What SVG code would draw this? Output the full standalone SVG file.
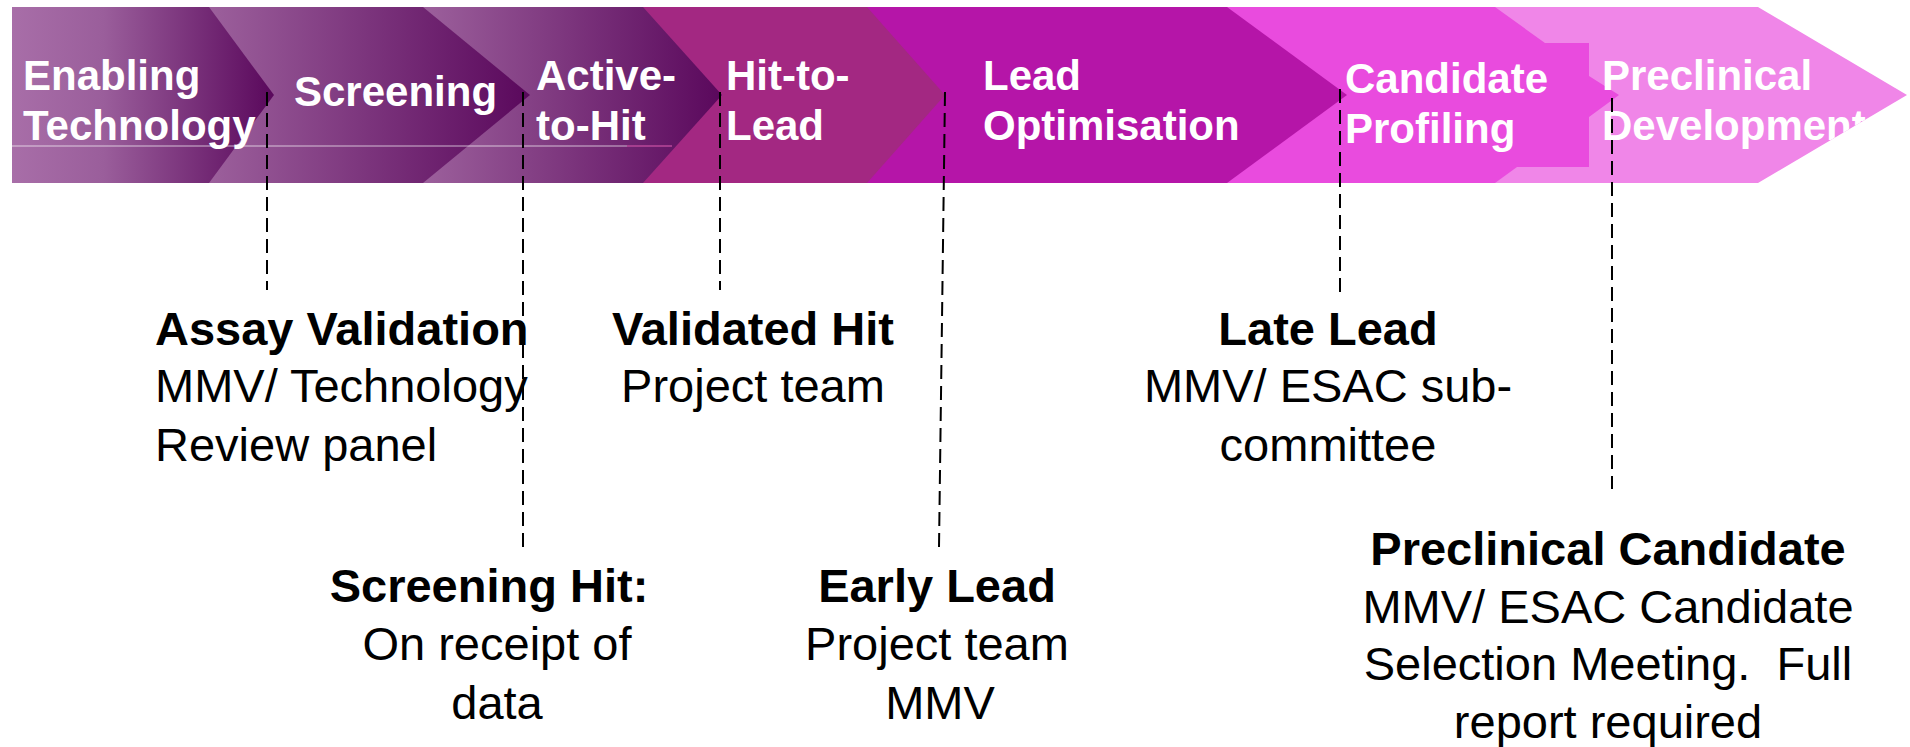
<svg xmlns="http://www.w3.org/2000/svg" width="1910" height="747" viewBox="0 0 1910 747">
<defs>
<style>
.band{font-family:"Liberation Sans",Arial,sans-serif;font-weight:bold;font-size:42px;fill:#ffffff}
.h{font-family:"Liberation Sans",Arial,sans-serif;font-weight:bold;font-size:47px;fill:#000000}
.t{font-family:"Liberation Sans",Arial,sans-serif;font-size:47px;fill:#000000}
.c{text-anchor:middle}
.dash{stroke:#000000;stroke-width:2;stroke-dasharray:14 7;fill:none}
</style>
<linearGradient id="g1" gradientUnits="userSpaceOnUse" x1="12" y1="0" x2="274" y2="0">
<stop offset="0" stop-color="#a86ea8"/><stop offset="0.35" stop-color="#9a5e9b"/><stop offset="1" stop-color="#5a085c"/>
</linearGradient>
<linearGradient id="g2" gradientUnits="userSpaceOnUse" x1="209" y1="0" x2="530" y2="0">
<stop offset="0" stop-color="#9c609c"/><stop offset="1" stop-color="#5a085c"/>
</linearGradient>
<linearGradient id="g3" gradientUnits="userSpaceOnUse" x1="423" y1="0" x2="722" y2="0">
<stop offset="0" stop-color="#9c609c"/><stop offset="1" stop-color="#5a085c"/>
</linearGradient>
<clipPath id="clip7"><polygon points="1200,7 1758,7 1907,95 1758,183 1200,183"/></clipPath>
</defs>
<rect width="1910" height="747" fill="#ffffff"/>

<g id="stage-preclinical-development">
<polygon points="1200,7 1758,7 1907,95 1758,183 1200,183" fill="#f086e8"/>
</g>
<g id="stage-candidate-profiling">
<polygon points="1100,7 1495,7 1545,43 1589,43 1589,76 1619,95 1589,117 1589,167 1517,167 1495,183 1100,183" fill="#e94bde"/>
</g>
<g id="stage-lead-optimisation">
<polygon points="860,7 1227,7 1347,95 1227,183 860,183" fill="#b515a8"/>
</g>
<g id="stage-hit-to-lead">
<polygon points="640,7 867,7 945,95 867,183 640,183" fill="#a32882"/>
</g>
<g id="stage-active-to-hit">
<polygon points="420,7 643,7 722,95 643,183 420,183" fill="url(#g3)"/>
</g>
<g id="stage-screening">
<polygon points="205,7 423,7 530,95 423,183 205,183" fill="url(#g2)"/>
</g>
<g id="stage-enabling-technology">
<polygon points="12,7 209,7 274,95 209,183 12,183" fill="url(#g1)"/>
</g>
<line x1="12" y1="146" x2="627" y2="146" stroke="#ffffff" stroke-opacity="0.45" stroke-width="1.5"/>
<line x1="627" y1="146" x2="672" y2="146" stroke="#b8489a" stroke-width="1.5"/>

<g id="stage-labels">
<text class="band" x="23" y="90">Enabling</text>
<text class="band" x="23" y="140">Technology</text>
<text class="band" x="294" y="106">Screening</text>
<text class="band" x="536" y="90">Active-</text>
<text class="band" x="536" y="140">to-Hit</text>
<text class="band" x="726" y="90">Hit-to-</text>
<text class="band" x="726" y="140">Lead</text>
<text class="band" x="983" y="90">Lead</text>
<text class="band" x="983" y="140">Optimisation</text>
<text class="band" x="1345" y="93">Candidate</text>
<text class="band" x="1345" y="143">Profiling</text>
<text class="band" x="1602" y="90">Preclinical</text>
<text class="band" x="1602" y="140" clip-path="url(#clip7)">Development</text>
</g>

<g id="milestone-assay-validation">
<text class="h" x="155" y="345">Assay Validation</text>
<text class="t" x="155" y="402">MMV/ Technology</text>
<text class="t" x="155" y="461">Review panel</text>
</g>
<g id="milestone-validated-hit">
<text class="h c" x="753" y="345">Validated Hit</text>
<text class="t c" x="753" y="402">Project team</text>
</g>
<g id="milestone-screening-hit">
<text class="h c" x="489" y="602">Screening Hit:</text>
<text class="t c" x="497" y="660">On receipt of</text>
<text class="t c" x="497" y="719">data</text>
</g>
<g id="milestone-early-lead">
<text class="h c" x="937" y="602">Early Lead</text>
<text class="t c" x="937" y="660">Project team</text>
<text class="t c" x="940" y="719">MMV</text>
</g>
<g id="milestone-late-lead">
<text class="h c" x="1328" y="345">Late Lead</text>
<text class="t c" x="1328" y="402">MMV/ ESAC sub-</text>
<text class="t c" x="1328" y="461">committee</text>
</g>
<g id="milestone-preclinical-candidate">
<text class="h c" x="1608" y="565">Preclinical Candidate</text>
<text class="t c" x="1608" y="623">MMV/ ESAC Candidate</text>
<text class="t c" x="1608" y="680" xml:space="preserve">Selection Meeting.  Full</text>
<text class="t c" x="1608" y="738">report required</text>
</g>

<g id="connectors">
<line class="dash" x1="267" y1="92" x2="267" y2="290"/>
<line class="dash" x1="523" y1="92" x2="523" y2="547"/>
<line class="dash" x1="720" y1="92" x2="720" y2="290"/>
<line class="dash" x1="945" y1="92" x2="939" y2="547"/>
<line class="dash" x1="1340" y1="89" x2="1340" y2="296"/>
<line class="dash" x1="1612" y1="98" x2="1612" y2="489"/>
</g>
</svg>
